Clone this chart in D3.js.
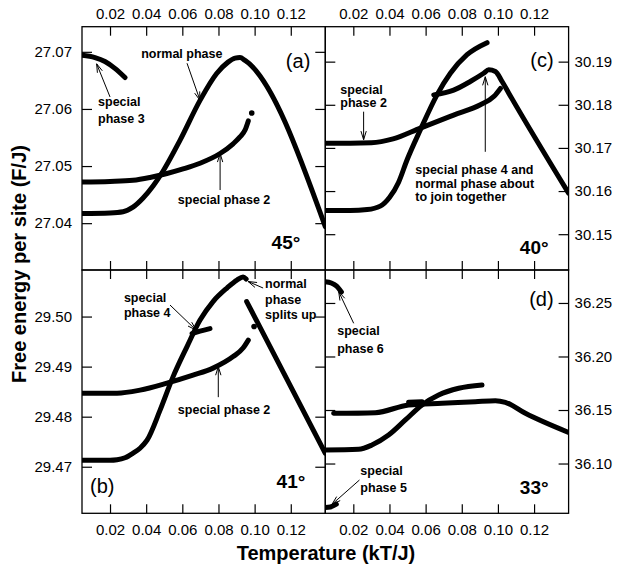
<!DOCTYPE html>
<html>
<head>
<meta charset="utf-8">
<script src="https://cdn.jsdelivr.net/npm/d3@7"></script>
<style>
body { margin: 0; background: #fff; }
svg { display: block; }
</style>
</head>
<body>
<div class="fig"></div>
<script>
// Taille de la figure et cadre des 4 panneaux (2 x 2)
const width = 620;
const height = 570;
const frame = { left: 82, top: 26.7, w: 243.3, h: 243.3 };
const font = "'Liberation Sans', Arial, Helvetica, sans-serif";

// Axe des températures (commun)
const tempDomain = [0.0045, 0.1391];
const tempTicks = [0.02, 0.04, 0.06, 0.08, 0.10, 0.12];

// (a) 45°
const aTicks = [27.04, 27.05, 27.06, 27.07];
const aNormal = [[0.0045, 27.0417], [0.0200, 27.0418], [0.0272, 27.0420], [0.0327, 27.0428], [0.0383, 27.0444],
  [0.0438, 27.0465], [0.0493, 27.0491], [0.0587, 27.0545], [0.0698, 27.0615], [0.0790, 27.0662],
  [0.0853, 27.0682], [0.0892, 27.0689], [0.0919, 27.0690], [0.0947, 27.0685], [0.1391, 27.0394]];
const aSpecial2 = [[0.0045, 27.0472], [0.0200, 27.0473], [0.0327, 27.0475], [0.0421, 27.0480], [0.0515, 27.0487],
  [0.0604, 27.0495], [0.0698, 27.0505], [0.0809, 27.0522], [0.0881, 27.0539], [0.0919, 27.0551],
  [0.0947, 27.0563], [0.0965, 27.0579]];
const aSpecial3 = [[0.0045, 27.0694], [0.0117, 27.0690], [0.0172, 27.0683], [0.0227, 27.0671], [0.0283, 27.0655]];
const aDots = [[0.0984, 27.0593]];

// (b) 41°
const bTicks = [29.47, 29.48, 29.49, 29.50];
const bNormalUp = [[0.0045, 29.4713], [0.0200, 29.4713], [0.0239, 29.4714], [0.0283, 29.4718], [0.0327, 29.4727],
  [0.0366, 29.4737], [0.0405, 29.4753], [0.0477, 29.4813], [0.0549, 29.4880], [0.0626, 29.4940],
  [0.0698, 29.4993], [0.0770, 29.5030], [0.0847, 29.5057], [0.0902, 29.5073], [0.0936, 29.5079], [0.0953, 29.5075]];
const bNormalDown = [[0.0956, 29.5030], [0.1391, 29.4727]];
const bSpecial4 = [[0.0654, 29.4966], [0.0698, 29.4971], [0.0753, 29.4976]];
const bSpecial2 = [[0.0045, 29.4847], [0.0239, 29.4847], [0.0366, 29.4853], [0.0515, 29.4867], [0.0659, 29.4883],
  [0.0770, 29.4897], [0.0881, 29.4920], [0.0936, 29.4937], [0.0965, 29.4953]];
const bDots = [[0.0997, 29.4980]];

// (c) 40°
const cTicks = [30.15, 30.16, 30.17, 30.18, 30.19];
const cNormal = [[0.0045, 30.1555], [0.0183, 30.1555], [0.0277, 30.1557], [0.0349, 30.1565], [0.0400, 30.1585],
  [0.0450, 30.1620], [0.0497, 30.1672], [0.0571, 30.1742], [0.0663, 30.1823], [0.0737, 30.1873],
  [0.0829, 30.1916], [0.0940, 30.1944]];
const cSpecial4 = [[0.0645, 30.1823], [0.0755, 30.1834], [0.0847, 30.1854], [0.0921, 30.1873], [0.0949, 30.1881],
  [0.0986, 30.1877], [0.1023, 30.1854], [0.1060, 30.1827], [0.1391, 30.1595]];
const cSpecial2 = [[0.0045, 30.1711], [0.0183, 30.1711], [0.0300, 30.1712], [0.0420, 30.1721], [0.0571, 30.1746],
  [0.0755, 30.1776], [0.0903, 30.1800], [0.0977, 30.1819], [0.1014, 30.1838]];

// (d) 33°
const dTicks = [36.10, 36.15, 36.20, 36.25];
const dHigh = [[0.0091, 36.1469], [0.0322, 36.1475], [0.0506, 36.1547], [0.0691, 36.1563], [0.0875, 36.1578],
  [0.0986, 36.1587], [0.1041, 36.1572], [0.1152, 36.1469], [0.1391, 36.1290]];
const dLow = [[0.0045, 36.1126], [0.0229, 36.1133], [0.0303, 36.1173], [0.0395, 36.1266], [0.0488, 36.1407],
  [0.0580, 36.1547], [0.0672, 36.1640], [0.0783, 36.1703], [0.0912, 36.1734]];
const dStub = [[0.0506, 36.1572], [0.0580, 36.1578]];
const dSpecial6 = [[0.0045, 36.2699], [0.0078, 36.2687], [0.0106, 36.2659], [0.0134, 36.2603]];
const dSpecial5 = [[0.0045, 36.0589], [0.0073, 36.0594], [0.0106, 36.0620]];

// Annotations : texte (coord. données de la 1ère ligne) + flèche (départ -> pointe)
const aNotes = [
  { lines: ['normal phase'], at: [0.0597, 27.0689], anchor: 'middle', arrow: [[0.0626, 27.0680], [0.0698, 27.0615]] },
  { lines: ['special', 'phase 3'], lh: 16.7, at: [0.0134, 27.0605], anchor: 'start', arrow: [[0.0200, 27.0621], [0.0126, 27.0679]] },
  { lines: ['special phase 2'], at: [0.0831, 27.0433], anchor: 'middle', arrow: [[0.0809, 27.0458], [0.0809, 27.0522]] }
];
const bNotes = [
  { lines: ['special', 'phase 4'], lh: 15, at: [0.0277, 29.5029], anchor: 'start', arrow: [[0.0532, 29.5023], [0.0676, 29.4973]] },
  { lines: ['normal', 'phase', 'splits up'], lh: 15.7, at: [0.1058, 29.5057], anchor: 'start', arrow: [[0.1047, 29.5057], [0.0964, 29.5070]] },
  { lines: ['special phase 2'], at: [0.0831, 29.4805], anchor: 'middle', arrow: [[0.0799, 29.4839], [0.0799, 29.4900]] }
];
const cNotes = [
  { lines: ['special', 'phase 2'], lh: 13.3, at: [0.0128, 30.1825], anchor: 'start', arrow: [[0.0257, 30.1784], [0.0257, 30.1719]] },
  { lines: ['special phase 4 and', 'normal phase about', 'to join together'], lh: 13.7, at: [0.0543, 30.1640], anchor: 'start',
    arrow: [[0.0930, 30.1691], [0.0930, 30.1865]] }
];
const dNotes = [
  { lines: ['special', 'phase 6'], lh: 17.7, at: [0.0111, 36.2201], anchor: 'start', arrow: [[0.0202, 36.2310], [0.0119, 36.2606]] },
  { lines: ['special', 'phase 5'], lh: 16.7, at: [0.0239, 36.0893], anchor: 'start', arrow: [[0.0234, 36.0846], [0.0082, 36.0619]] }
];

const panels = [
  { col: 0, row: 0, domain: [27.0318, 27.0744], ticks: aTicks, ySide: 'left', xSide: 'top',
    series: [aNormal, aSpecial2, aSpecial3], dots: aDots, notes: aNotes,
    tag: '(a)', tagPos: { right: 15, top: 41 }, deg: '45°', degPos: { right: 25, bottom: 21 } },
  { col: 0, row: 1, domain: [29.4607, 29.5093], ticks: bTicks, ySide: 'left', xSide: 'bottom',
    series: [bNormalUp, bNormalDown, bSpecial4, bSpecial2], dots: bDots, notes: bNotes,
    tag: '(b)', tagPos: { left: 8, bottom: 20 }, deg: '41°', degPos: { right: 20, bottom: 25 } },
  { col: 1, row: 0, domain: [30.1417, 30.1981], ticks: cTicks, ySide: 'right', xSide: 'top',
    series: [cNormal, cSpecial4, cSpecial2], dots: [], notes: cNotes,
    tag: '(c)', tagPos: { right: 15, top: 40 }, deg: '40°', degPos: { right: 20, bottom: 16.5 } },
  { col: 1, row: 1, domain: [36.0535, 36.2808], ticks: dTicks, ySide: 'right', xSide: 'bottom',
    series: [dHigh, dLow, dStub, dSpecial6, dSpecial5], dots: [], notes: dNotes,
    tag: '(d)', tagPos: { right: 15, top: 36 }, deg: '33°', degPos: { right: 20, bottom: 19 } }
];

const svg = d3.select('.fig')
  .append('svg')
  .attr('width', width)
  .attr('height', height)
  .style('font-family', font);

const fmt = d3.format('.2f');

function drawArrow(g, x1, y1, x2, y2) {
  const a = Math.atan2(y2 - y1, x2 - x1);
  const len = 9, spread = 0.3;
  const p = d3.path();
  p.moveTo(x1, y1); p.lineTo(x2, y2);
  p.moveTo(x2 - len * Math.cos(a - spread), y2 - len * Math.sin(a - spread));
  p.lineTo(x2, y2);
  p.lineTo(x2 - len * Math.cos(a + spread), y2 - len * Math.sin(a + spread));
  g.append('path').attr('d', p.toString())
    .attr('fill', 'none').attr('stroke', '#000').attr('stroke-width', 1);
}

panels.forEach((pn, i) => {
  const px = frame.left + pn.col * frame.w;
  const py = frame.top + pn.row * frame.h;
  const x = d3.scaleLinear().domain(tempDomain).range([px, px + frame.w]);
  const y = d3.scaleLinear().domain(pn.domain).range([py + frame.h, py]);

  // Axes : graduations vers l'intérieur sur les 4 côtés
  const axes = [
    { ax: d3.axisLeft(y).tickValues(pn.ticks), t: `translate(${px},0)`, lab: pn.ySide === 'left', pad: 10, size: 10 },
    { ax: d3.axisRight(y).tickValues(pn.ticks), t: `translate(${px + frame.w},0)`, lab: pn.ySide === 'right', pad: 6, size: 10 },
    { ax: d3.axisTop(x).tickValues(tempTicks), t: `translate(0,${py})`, lab: pn.xSide === 'top', pad: 8, size: 9 },
    { ax: d3.axisBottom(x).tickValues(tempTicks), t: `translate(0,${py + frame.h})`, lab: pn.xSide === 'bottom', pad: 11, size: 9 }
  ];
  axes.forEach(a => {
    svg.append('g')
      .attr('transform', a.t)
      .call(a.ax.tickSize(-a.size).tickPadding(a.pad).tickFormat(a.lab ? fmt : ''))
      .call(g => g.select('.domain').remove())
      .call(g => g.selectAll('line').attr('stroke-width', 1.2))
      .call(g => g.selectAll('text').attr('font-size', 15).attr('font-family', font).attr('fill', '#000'));
  });

  // Zone de tracé
  const clipId = 'clip' + i;
  svg.append('clipPath').attr('id', clipId)
    .append('rect').attr('x', px).attr('y', py).attr('width', frame.w).attr('height', frame.h);

  const line = d3.line()
    .x(d => x(d[0]))
    .y(d => y(d[1]))
    .curve(d3.curveMonotoneX);

  const plot = svg.append('g').attr('clip-path', `url(#${clipId})`);
  plot.selectAll('path')
    .data(pn.series)
    .join('path')
      .attr('d', line)
      .attr('fill', 'none')
      .attr('stroke', '#000')
      .attr('stroke-width', 5)
      .attr('stroke-linecap', 'round')
      .attr('stroke-linejoin', 'round');
  plot.selectAll('circle')
    .data(pn.dots)
    .join('circle')
      .attr('cx', d => x(d[0]))
      .attr('cy', d => y(d[1]))
      .attr('r', 2.8)
      .attr('fill', '#000');

  // Cadre
  svg.append('rect')
    .attr('x', px).attr('y', py).attr('width', frame.w).attr('height', frame.h)
    .attr('fill', 'none').attr('stroke', '#000').attr('stroke-width', 1.3);

  // Annotations
  const notes = svg.append('g')
    .attr('font-size', 12.5)
    .attr('font-weight', 'bold');
  pn.notes.forEach(n => {
    const t = notes.append('text')
      .attr('x', x(n.at[0]))
      .attr('y', y(n.at[1]))
      .attr('text-anchor', n.anchor);
    n.lines.forEach((s, k) => {
      t.append('tspan')
        .attr('x', x(n.at[0]))
        .attr('y', y(n.at[1]) + k * (n.lh || 0))
        .text(s);
    });
    drawArrow(svg, x(n.arrow[0][0]), y(n.arrow[0][1]), x(n.arrow[1][0]), y(n.arrow[1][1]));
  });

  // Etiquettes du panneau
  const tp = pn.tagPos;
  svg.append('text')
    .attr('x', tp.right !== undefined ? px + frame.w - tp.right : px + tp.left)
    .attr('y', tp.top !== undefined ? py + tp.top : py + frame.h - tp.bottom)
    .attr('text-anchor', tp.right !== undefined ? 'end' : 'start')
    .attr('font-size', 20)
    .text(pn.tag);
  svg.append('text')
    .attr('x', px + frame.w - pn.degPos.right)
    .attr('y', py + frame.h - pn.degPos.bottom)
    .attr('text-anchor', 'end')
    .attr('font-size', 19)
    .attr('font-weight', 'bold')
    .text(pn.deg);
});

// Titres des axes
svg.append('text')
  .attr('transform', 'translate(26,264) rotate(-90)')
  .attr('text-anchor', 'middle')
  .attr('font-size', 20)
  .attr('font-weight', 'bold')
  .text('Free energy per site (F/J)');

svg.append('text')
  .attr('x', 326)
  .attr('y', 560)
  .attr('text-anchor', 'middle')
  .attr('font-size', 20)
  .attr('font-weight', 'bold')
  .text('Temperature (kT/J)');
</script>
</body>
</html>
